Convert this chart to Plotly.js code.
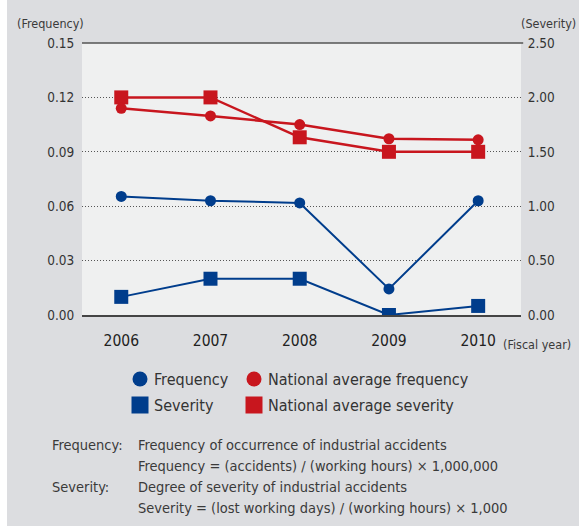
<!DOCTYPE html>
<html>
<head>
<meta charset="utf-8">
<script src="https://cdn.plot.ly/plotly-3.0.1.min.js"></script>
<style>
  html, body { margin: 0; padding: 0; background: #ffffff; }
  #chart { position: absolute; left: 7px; top: 0; width: 572px; height: 526px; }
</style>
</head>
<body>
<div id="chart"></div>
<script>
// ---- data ----
const years = ['2006', '2007', '2008', '2009', '2010'];
// company frequency rate (plotted on right scale)
const frequency = [1.09, 1.05, 1.03, 0.24, 1.05];
// company severity rate (plotted on left scale)
const severity = [0.010, 0.020, 0.020, 0.000, 0.005];
// national average frequency rate (right scale)
const nationalFrequency = [1.90, 1.83, 1.75, 1.62, 1.61];
// national average severity rate (left scale)
const nationalSeverity = [0.12, 0.12, 0.098, 0.09, 0.09];

const leftTicks = [0, 0.03, 0.06, 0.09, 0.12, 0.15];
const rightTicks = [0, 0.5, 1.0, 1.5, 2.0, 2.5];

const legendLabels = ['Frequency', 'National average frequency', 'Severity', 'National average severity'];
const noteLabels = ['Frequency:', 'Severity:'];
const noteLines = [
  'Frequency of occurrence of industrial accidents',
  'Frequency = (accidents) / (working hours) × 1,000,000',
  'Degree of severity of industrial accidents',
  'Severity = (lost working days) / (working hours) × 1,000'
];

// ---- styling ----
const BLUE = '#003d8c';
const RED = '#c8161e';
const FONT = '"DejaVu Sans Condensed", "Liberation Sans", sans-serif';
const TXT = '#3a3a3a';

// plot area in window pixels (div offset 7px)
const PL = 82, PR = 521, PT = 43, PB = 315;
const px = X => (X - PL) / (PR - PL);
const py = Y => (PB - Y) / (PB - PT);

const traces = [
  { x: years, y: nationalFrequency, yaxis: 'y2', name: legendLabels[1], mode: 'lines+markers',
    line: { color: RED, width: 2.5 }, marker: { symbol: 'circle', size: 11, color: RED } },
  { x: years, y: nationalSeverity, yaxis: 'y', name: legendLabels[3], mode: 'lines+markers',
    line: { color: RED, width: 2.5 }, marker: { symbol: 'square', size: 14, color: RED } },
  { x: years, y: frequency, yaxis: 'y2', name: legendLabels[0], mode: 'lines+markers',
    line: { color: BLUE, width: 2 }, marker: { symbol: 'circle', size: 11, color: BLUE } },
  { x: years, y: severity, yaxis: 'y', name: legendLabels[2], mode: 'lines+markers',
    line: { color: BLUE, width: 2 }, marker: { symbol: 'square', size: 14, color: BLUE } }
];

const annotations = [];
const shapes = [];

function txt(text, X, Y, size, anchor, color) {
  annotations.push({ text: text, xref: 'paper', yref: 'paper', x: px(X), y: py(Y),
    xanchor: anchor || 'left', yanchor: 'middle', showarrow: false,
    font: { family: FONT, size: size, color: color || TXT } });
}

// axis unit labels
txt('(Frequency)', 15, 23, 12.5, 'left');
txt('(Severity)', 578, 23, 12.5, 'right');
txt('(Fiscal year)', 501, 344, 12.5, 'left');

// top border line of plot
shapes.push({ type: 'line', xref: 'paper', yref: 'paper', x0: 0, x1: 1.005, y0: 1, y1: 1,
  line: { color: '#555', width: 1.5 } });

// legend (manual)
const legendItems = [
  { label: legendLabels[0], color: BLUE, sym: 'circle', X: 140, Y: 379 },
  { label: legendLabels[1], color: RED, sym: 'circle', X: 254, Y: 379 },
  { label: legendLabels[2], color: BLUE, sym: 'square', X: 140, Y: 405 },
  { label: legendLabels[3], color: RED, sym: 'square', X: 254, Y: 405 }
];
legendItems.forEach(it => {
  const r = it.sym === 'circle' ? 7.5 : 8.5;
  shapes.push({ type: it.sym === 'circle' ? 'circle' : 'rect', xref: 'paper', yref: 'paper',
    x0: px(it.X - r), x1: px(it.X + r), y0: py(it.Y + r), y1: py(it.Y - r),
    fillcolor: it.color, line: { width: 0 } });
  txt(it.label, it.X + 12, it.Y, 16, 'left', '#333');
});

// notes
txt(noteLabels[0], 50, 445, 14.5, 'left');
txt(noteLines[0], 136, 445, 14.5, 'left');
txt(noteLines[1], 136, 466, 14.5, 'left');
txt(noteLabels[1], 50, 487, 14.5, 'left');
txt(noteLines[2], 136, 487, 14.5, 'left');
txt(noteLines[3], 136, 508, 14.5, 'left');

const layout = {
  width: 572, height: 526,
  margin: { l: PL - 7, r: 579 - PR, t: PT, b: 526 - PB, pad: 0 },
  paper_bgcolor: '#dcdde0',
  plot_bgcolor: '#eff0f0',
  showlegend: false,
  xaxis: {
    type: 'category', range: [-0.44, 4.48], showgrid: false, zeroline: false,
    showline: true, linecolor: '#444', linewidth: 2,
    ticks: 'outside', ticklen: 10, tickcolor: 'rgba(0,0,0,0)',
    tickfont: { family: FONT, size: 15.5, color: '#222' }
  },
  yaxis: {
    range: [0, 0.15], tickvals: leftTicks, tickformat: '.2f',
    showgrid: true, gridcolor: '#555', griddash: '1px,2px', gridwidth: 1,
    zeroline: false, showline: false,
    ticks: 'outside', ticklen: 4, tickcolor: 'rgba(0,0,0,0)',
    tickfont: { family: FONT, size: 13.5, color: '#333' }
  },
  yaxis2: {
    overlaying: 'y', side: 'right', range: [0, 2.5], tickvals: rightTicks, tickformat: '.2f',
    showgrid: false, zeroline: false, showline: false,
    ticks: 'outside', ticklen: 3, tickcolor: 'rgba(0,0,0,0)',
    tickfont: { family: FONT, size: 13.5, color: '#333' }
  },
  shapes: shapes,
  annotations: annotations
};

Plotly.newPlot('chart', traces, layout, { displayModeBar: false, staticPlot: true });
</script>
</body>
</html>
